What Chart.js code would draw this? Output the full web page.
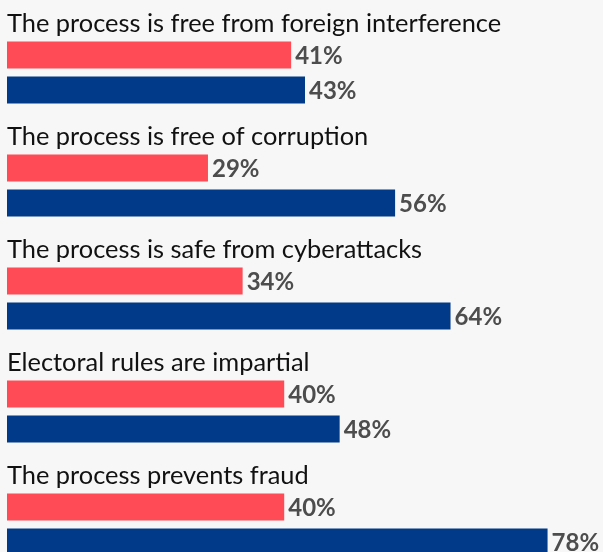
<!DOCTYPE html>
<html>
<head>
<meta charset="utf-8">
<script src="https://cdn.jsdelivr.net/npm/chart.js@4"></script>
<style>
  html, body { margin: 0; padding: 0; background: #f7f7f7; }
  #wrap { width: 603px; height: 552px; overflow: hidden; }
</style>
</head>
<body>
<div id="wrap"><canvas id="myChart" width="603" height="581"></canvas></div>
<script>
const categories = [
    'The process is free from foreign interference',
    'The process is free of corruption',
    'The process is safe from cyberattacks',
    'Electoral rules are impartial',
    'The process prevents fraud'
];
const redValues = [41, 29, 34, 40, 40];
const blueValues = [43, 56, 64, 48, 78];

// category titles above each pair, value labels at the end of each bar
const barText = {
    id: 'barText',
    afterDatasetsDraw(chart) {
        const ctx = chart.ctx;
        ctx.save();

        ctx.fillStyle = '#111111';
        ctx.font = '25.4px Lato';
        ctx.textAlign = 'left';
        ctx.textBaseline = 'alphabetic';
        chart.getDatasetMeta(0).data.forEach(function (bar, i) {
            ctx.fillText(chart.data.labels[i], chart.chartArea.left, bar.y - bar.height / 2 - 10);
        });

        ctx.fillStyle = '#4d4d4d';
        ctx.font = 'bold 24px Lato';
        ctx.textBaseline = 'middle';
        chart.data.datasets.forEach(function (dataset, d) {
            chart.getDatasetMeta(d).data.forEach(function (bar, i) {
                ctx.fillText(dataset.data[i] + '%', bar.x + 4, bar.y + 1);
            });
        });
        ctx.restore();
    }
};

new Chart(document.getElementById('myChart'), {
    type: 'bar',
    data: {
        labels: categories,
        datasets: [
            { label: 'red', data: redValues, backgroundColor: '#ff4b55' },
            { label: 'blue', data: blueValues, backgroundColor: '#003a88' }
        ]
    },
    options: {
        indexAxis: 'y',
        responsive: false,
        animation: false,
        categoryPercentage: 70 / 113,
        barPercentage: 27 / 35,
        layout: { padding: { left: 7, right: 0, top: 16, bottom: 0 } },
        plugins: {
            legend: { display: false },
            tooltip: { enabled: false }
        },
        scales: {
            x: { display: false, min: 0, max: 86 },
            y: { display: false }
        }
    },
    plugins: [barText]
});
</script>
</body>
</html>
